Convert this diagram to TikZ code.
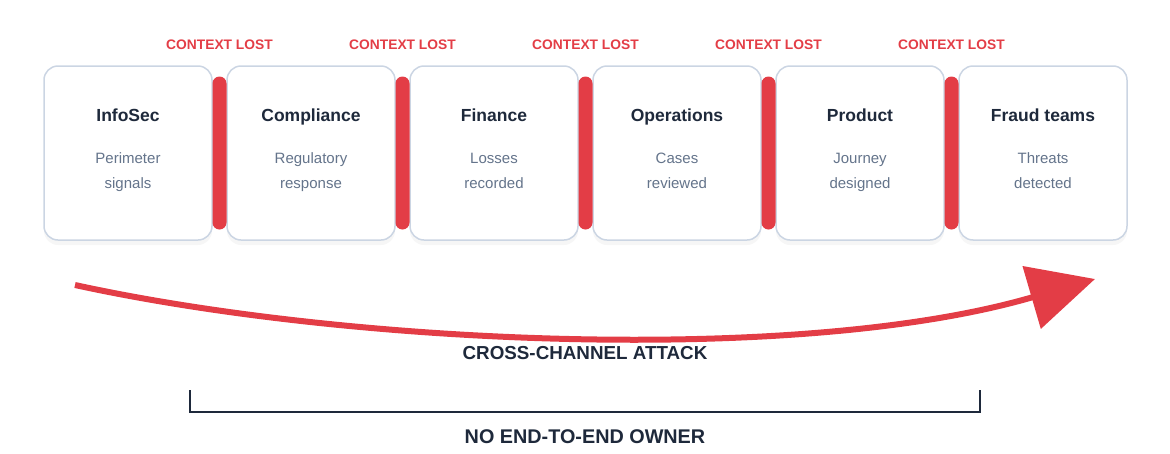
\documentclass[tikz,border=0pt]{standalone}
\usepackage{fontspec}
\setmainfont{Liberation Sans}
\usetikzlibrary{arrows.meta, positioning, calc, shadows}
\definecolor{lossred}{HTML}{E33D46}
\definecolor{inkdark}{HTML}{1E293B}
\definecolor{inkgray}{HTML}{64748B}
\definecolor{boxline}{HTML}{CBD5E3}
\tikzset{
		teambox/.style={draw=boxline, line width=1.5pt, fill=white, rounded corners=14pt,
			minimum width=168pt, minimum height=174pt, outer sep=0pt,
			drop shadow={opacity=0.07, shadow xshift=0pt, shadow yshift=-5pt}},
		teamtitle/.style={font=\fontsize{17.5}{20}\selectfont\bfseries, text=inkdark, anchor=base},
		teamsub/.style={font=\fontsize{15}{25}\selectfont, text=inkgray, align=center, anchor=base},
		lossbar/.style={fill=lossred, rounded corners=7pt, minimum width=14pt, minimum height=153pt, inner sep=0pt},
		losslabel/.style={font=\fontsize{13.8}{16}\selectfont\bfseries, text=lossred, anchor=base},
		caption/.style={font=\fontsize{18.8}{22}\selectfont\bfseries, text=inkdark}
	}

\begin{document}
\begin{tikzpicture}[x=1pt, y=-1pt, node distance=15pt]
				\useasboundingbox (0,0) rectangle (1170,453);

				% teams
				\node[teambox] (b1) at (128,153) {};
				\node[teambox, right=of b1] (b2) {};
				\node[teambox, right=of b2] (b3) {};
				\node[teambox, right=of b3] (b4) {};
				\node[teambox, right=of b4] (b5) {};
				\node[teambox, right=of b5] (b6) {};

				\foreach \n/\title/\sub in {b1/InfoSec/{Perimeter\\signals},
						b2/Compliance/{Regulatory\\response},
						b3/Finance/{Losses\\recorded},
						b4/Operations/{Cases\\reviewed},
						b5/Product/{Journey\\designed},
						b6/Fraud teams/{Threats\\detected}}{
					\node[teamtitle] (\n t) at ([yshift=-55pt]\n.north) {\title};
					\node[teamsub] (\n s) at ([yshift=-122pt]\n.north) {\sub};
				}

				% hand-offs
				\foreach \a/\b in {b1/b2, b2/b3, b3/b4, b4/b5, b5/b6}{
					\node[lossbar] (g\a) at ($(\a.east)!0.5!(\b.west)$) {};
					\node[losslabel] (l\a) at ([yshift=17pt]$(\a.north east)!0.5!(\b.north west)$) {CONTEXT LOST};
				}

				% attack path
				\coordinate (atkstart) at (75,285);
				\coordinate (atkend) at (1095,279);
				\draw[lossred, line width=6pt, -{Triangle[length=66pt, width=64pt]}]
					(atkstart) .. controls (350,345) and (800,365) .. (atkend);
				\node[caption] (attack) at (585,353) {CROSS-CHANNEL ATTACK};

				% ownership bracket
				\coordinate (brl) at (190,390);
				\coordinate (brr) at (980,390);
				\draw[inkdark, line width=2.5pt] (brl) |- ($(brr)+(0,22)$) -- (brr);
				\node[caption, font=\fontsize{19.8}{22}\selectfont\bfseries] (owner) at (585,437) {NO END-TO-END OWNER};
			\end{tikzpicture}
\end{document}
